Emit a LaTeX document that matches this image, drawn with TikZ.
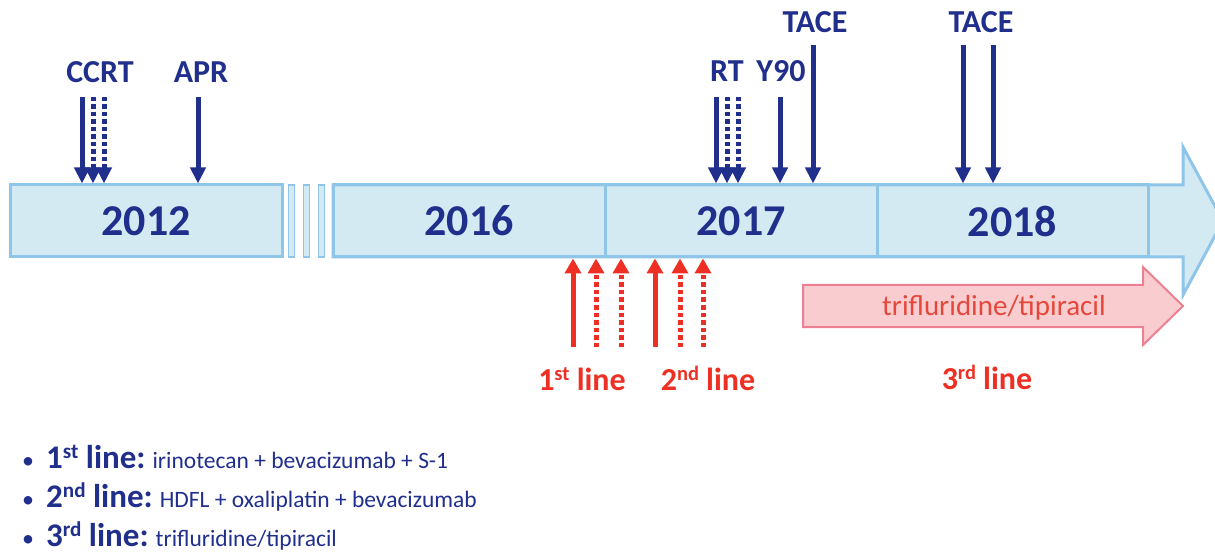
\documentclass[tikz,border=0pt]{standalone}
\usepackage{fontspec}
\setmainfont{Carlito}
\usetikzlibrary{arrows.meta}

\definecolor{navy}{RGB}{32,46,140}
\definecolor{barfill}{RGB}{212,234,243}
\definecolor{barline}{RGB}{143,197,232}
\definecolor{linered}{RGB}{238,48,36}
\definecolor{pillfill}{RGB}{249,204,208}
\definecolor{pillline}{RGB}{236,128,146}
\definecolor{pilltext}{RGB}{228,72,58}

\newcommand\ord[1]{\raisebox{0.3em}{\scalebox{0.64}{#1}}}

\begin{document}
\begin{tikzpicture}[x=1pt, y=-1pt,
  yearbox/.style={draw=barline, line width=3pt, minimum height=72pt, inner sep=0pt, font=\fontsize{44}{44}\selectfont\bfseries, text=navy},
  strip/.style={draw=barline, fill=barfill, line width=1.5pt, minimum width=6pt, minimum height=72pt, inner sep=0pt},
  event/.style={anchor=base, inner sep=0pt, font=\fontsize{32}{32}\selectfont\bfseries, text=navy},
  down/.style={navy, line width=5pt, -{Triangle[width=15pt,length=16pt]}},
  dots/.style={dash pattern=on 4.5pt off 3pt},
  up/.style={linered, line width=5pt, -{Triangle[width=16pt,length=15pt]}},
  linelabel/.style={anchor=base, inner sep=0pt, font=\fontsize{32}{32}\selectfont\bfseries, text=linered},
  bulletdot/.style={anchor=base, inner sep=0pt, font=\fontsize{24}{24}\selectfont, text=navy},
  item/.style={anchor=base west, inner sep=0pt, font=\fontsize{23.5}{23.5}\selectfont, text=navy}]

\useasboundingbox (0,0) rectangle (1215,553);

% timeline
\node[yearbox, fill=barfill, minimum width=272pt] (y2012) at (146,221) {2012};
\node[strip] (s1) at (291.5,221) {};
\node[strip] (s2) at (306.5,221) {};
\node[strip] (s3) at (321.5,221) {};
\draw[draw=barline, fill=barfill, line width=3pt] (333,185) -- (1183,185) -- (1183,147) -- (1223,221) -- (1183,295) -- (1183,257) -- (333,257) -- cycle;
\node[yearbox, minimum width=272pt] (y2016) at (469,221) {2016};
\node[yearbox, minimum width=272pt] (y2017) at (741,221) {2017};
\node[yearbox, minimum width=271pt] (y2018) at (1012.5,221) {2018};

% events
\node[event] (ccrt) at (100,83) {CCRT};
\node[event] (apr) at (201,83) {APR};
\node[event] (rt) at (727,82) {RT};
\node[event] (y90) at (781,82) {Y90};
\node[event] (tace1) at (815,33) {TACE};
\node[event] (tace2) at (981,33) {TACE};

\coordinate (ccrtA) at (82,97);
\coordinate (ccrtB) at (93,97);
\coordinate (ccrtC) at (104,97);
\coordinate (aprA) at (198,97);
\coordinate (rtA) at (716,97);
\coordinate (rtB) at (727,97);
\coordinate (rtC) at (738,97);
\coordinate (y90A) at (780,97);
\coordinate (taceA) at (813,45);
\coordinate (taceB) at (963,45);
\coordinate (taceC) at (993,45);

\draw[down] (ccrtA) -- (ccrtA |- y2012.north);
\draw[down, dots] (ccrtB) -- (ccrtB |- y2012.north);
\draw[down, dots] (ccrtC) -- (ccrtC |- y2012.north);
\draw[down] (aprA) -- (aprA |- y2012.north);
\draw[down] (rtA) -- (rtA |- y2017.north);
\draw[down, dots] (rtB) -- (rtB |- y2017.north);
\draw[down, dots] (rtC) -- (rtC |- y2017.north);
\draw[down] (y90A) -- (y90A |- y2017.north);
\draw[down] (taceA) -- (taceA |- y2017.north);
\draw[down] (taceB) -- (taceB |- y2018.north);
\draw[down] (taceC) -- (taceC |- y2018.north);

% chemotherapy lines
\coordinate (firstA) at (573,347);
\coordinate (firstB) at (596,347);
\coordinate (firstC) at (621,347);
\coordinate (secondA) at (655,347);
\coordinate (secondB) at (680,347);
\coordinate (secondC) at (703,347);

\draw[up] (firstA) -- (firstA |- y2016.south);
\draw[up, dots] (firstB) -- (firstB |- y2016.south);
\draw[up, dots] (firstC) -- (firstC |- y2017.south);
\draw[up] (secondA) -- (secondA |- y2017.south);
\draw[up, dots] (secondB) -- (secondB |- y2017.south);
\draw[up, dots] (secondC) -- (secondC |- y2017.south);

\node[linelabel] (first) at (582,390) {1\ord{st} line};
\node[linelabel] (second) at (708,390) {2\ord{nd} line};

\draw[draw=pillline, fill=pillfill, line width=2pt] (803,285) -- (1143,285) -- (1143,267) -- (1183,306) -- (1143,345) -- (1143,327) -- (803,327) -- cycle;
\node[anchor=base, inner sep=0pt, font=\fontsize{29}{29}\selectfont, text=pilltext] (pill) at (994,315) {trifluridine/tipiracil};
\node[linelabel] (third) at (987,389) {3\ord{rd} line};

% legend
\node[bulletdot] (b1) at (28,468) {\textbullet};
\node[bulletdot] (b2) at (28,507) {\textbullet};
\node[bulletdot] (b3) at (28,546) {\textbullet};
\node[item] (i1) at (46,468) {{\fontsize{33}{33}\selectfont\bfseries 1\ord{st} line:} irinotecan + bevacizumab + S-1};
\node[item] (i2) at (46,507) {{\fontsize{33}{33}\selectfont\bfseries 2\ord{nd} line:} HDFL + oxaliplatin + bevacizumab};
\node[item] (i3) at (46,546) {{\fontsize{33}{33}\selectfont\bfseries 3\ord{rd} line:} trifluridine/tipiracil};
\end{tikzpicture}
\end{document}
